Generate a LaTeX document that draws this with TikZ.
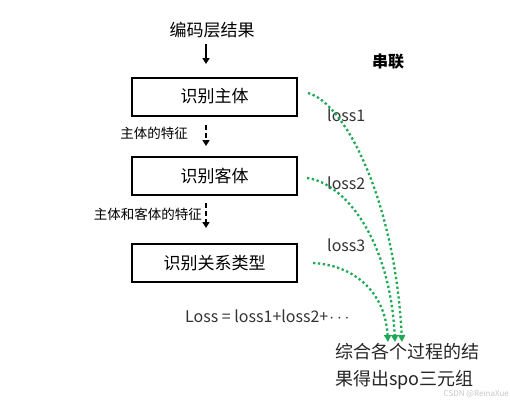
\documentclass[tikz,border=0pt]{standalone}
\usepackage{fontspec}
\setmainfont{Noto Sans CJK SC}
\usetikzlibrary{arrows.meta}
\definecolor{lossgreen}{RGB}{30,170,85}
\definecolor{wmgray}{RGB}{200,200,200}
\begin{document}
\begin{tikzpicture}[x=1pt,y=-1pt,
  stagebox/.style={draw=black,line width=2pt,minimum width=165pt,minimum height=38pt,inner sep=0pt,font=\fontsize{17}{20}\selectfont},
  lbl/.style={inner sep=0pt,font=\fontsize{16}{19}\selectfont,text=black!80},
  feat/.style={inner sep=0pt,font=\fontsize{13.5}{16}\selectfont},
  flow/.style={line width=1.8pt,-{Triangle[width=7pt,length=6pt]}},
  dflow/.style={flow,dash pattern=on 5pt off 3pt},
  lossline/.style={draw=lossgreen,line width=2.3pt,dash pattern=on 2.3pt off 2.6pt,-{Triangle[width=7pt,length=7pt,fill=lossgreen]}}
]
\useasboundingbox[fill=white] (0,0) rectangle (510,400);

\node[inner sep=0pt,font=\fontsize{17}{20}\selectfont] (enc) at (212,30) {编码层结果};
\node[stagebox] (b1) at (214.5,96.5) {识别主体};
\node[stagebox] (b2) at (214.5,175.5) {识别客体};
\node[stagebox] (b3) at (214.5,263) {识别关系类型};

\coordinate (a1s) at (206,44);
\coordinate (a1e) at (206,64);
\coordinate (a2s) at (206,125);
\coordinate (a2e) at (206,146);
\coordinate (a3s) at (206,203);
\coordinate (a3e) at (206,228);
\draw[flow] (a1s) -- (a1e);
\draw[dflow] (a2s) -- (a2e);
\draw[dflow] (a3s) -- (a3e);

\node[feat,anchor=east] (f1) at (188,133) {主体的特征};
\node[feat,anchor=east] (f2) at (202,214) {主体和客体的特征};

\node[inner sep=0pt,font=\bfseries\fontsize{16}{19}\selectfont] (chain) at (388,62) {串联};

\node[lbl,anchor=west] (l1) at (327,115) {loss1};
\node[lbl,anchor=west] (l2) at (327,183) {loss2};
\node[lbl,anchor=west] (l3) at (327,245) {loss3};

\node[lbl,anchor=west] (total) at (185,316) {Loss = loss1+loss2+\kern1pt$\cdots$};

\node[inner sep=0pt,anchor=north west,align=left,font=\fontsize{18}{27}\selectfont,text=black!85] (res) at (335,343) {综合各个过程的结\\果得出spo三元组};

\coordinate (s1) at (308,93);
\coordinate (s2) at (307,178);
\coordinate (s3) at (313,263);
\coordinate (e1) at (402,342);
\coordinate (e2) at (395,342);
\coordinate (e3) at (388,342);
\draw[lossline] (s1) .. controls (345,103) and (395,200) .. (e1);
\draw[lossline] (s2) .. controls (345,183) and (390,240) .. (e2);
\draw[lossline] (s3) .. controls (352,265) and (385,290) .. (e3);

\node[inner sep=0pt,anchor=east,font=\fontsize{8}{10}\selectfont,text=wmgray] (wm) at (509,394) {CSDN @ReinaXue};
\end{tikzpicture}
\end{document}
